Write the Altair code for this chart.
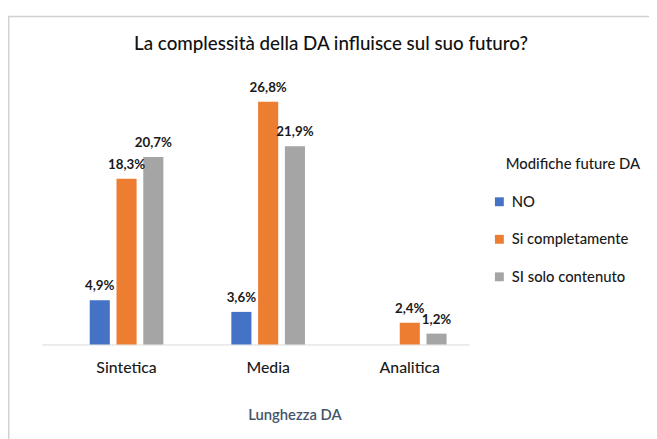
import altair as alt
import pandas as pd

categories = ["Sintetica", "Media", "Analitica"]
series = ["NO", "Si completamente", "SI solo contenuto"]
no_vals = [4.9, 3.6, None]
si_comp_vals = [18.3, 26.8, 2.4]
si_solo_vals = [20.7, 21.9, 1.2]
colors = ["#4472C4", "#ED7D31", "#A5A5A5"]
title_text = ["La complessità della DA influisce sul suo futuro?"]
legend_title = ["Modifiche future DA"]
x_title = "Lunghezza DA"

FONT = "Lato"

rows = []
for s, vals in zip(series, [no_vals, si_comp_vals, si_solo_vals]):
    for c, v in zip(categories, vals):
        if v is not None:
            rows.append({"cat": c, "serie": s, "val": v,
                         "label": f"{v:.1f}%".replace(".", ",")})
df = pd.DataFrame(rows)

x_enc = alt.X("cat:N", sort=categories,
              scale=alt.Scale(domain=categories, paddingInner=0.48,
                              paddingOuter=0.25, align=0.68),
              axis=alt.Axis(title=x_title, domainColor="#D9D9D9", domainWidth=1,
                            ticks=False, labelAngle=0, labelFontSize=16,
                            labelColor="#1a1a1a", labelFont=FONT, labelFontWeight=500,
                            labelPadding=15,
                            titleFont=FONT, titleFontSize=15, titleColor="#44546A",
                            titleFontWeight=600, titleX=256, titleY=76,
                            titleBaseline="alphabetic", titleAlign="center"))
xo_enc = alt.XOffset("serie:N", sort=series,
                     scale=alt.Scale(domain=series, paddingInner=0.25, paddingOuter=0))
y_enc = alt.Y("val:Q", scale=alt.Scale(domain=[0, 30], nice=False, zero=True), axis=None)

bars = alt.Chart(df).mark_bar().encode(
    x=x_enc, xOffset=xo_enc, y=y_enc,
    color=alt.Color("serie:N", sort=series,
                    scale=alt.Scale(domain=series, range=colors),
                    legend=alt.Legend(orient="none", legendX=456, legendY=123,
                                      title=None, symbolType="square",
                                      symbolSize=81, symbolStrokeWidth=0,
                                      labelFontSize=15, labelFont=FONT,
                                      labelFontWeight=500,
                                      labelColor="#1a1a1a", rowPadding=22,
                                      labelOffset=5, padding=0)),
)

labels = alt.Chart(df).mark_text(baseline="alphabetic", dy=-10, fontSize=13.5,
                                 fontWeight="bold", font=FONT, color="#1a1a1a").encode(
    x=alt.X("cat:N", sort=categories), xOffset=alt.XOffset("serie:N", sort=series),
    y="val:Q", text="label:N")

title = alt.Chart(pd.DataFrame({"t": title_text})).mark_text(
    align="center", baseline="alphabetic", fontSize=19, font=FONT, fontWeight=500,
    color="#111111").encode(
    x=alt.value(293), y=alt.value(-23), text="t:N")

leg_title = alt.Chart(pd.DataFrame({"t": legend_title})).mark_text(
    align="left", baseline="alphabetic", fontSize=15, font=FONT, fontWeight=500,
    color="#1a1a1a").encode(
    x=alt.value(470), y=alt.value(97), text="t:N")

border_top = alt.Chart(pd.DataFrame({"t": [0]})).mark_rule(color="#D0D0D0", strokeWidth=1.5).encode(
    x=alt.value(-34), x2=alt.value(620), y=alt.value(-57))
border_left = alt.Chart(pd.DataFrame({"t": [0]})).mark_rule(color="#D0D0D0", strokeWidth=1.5).encode(
    x=alt.value(-33.3), y=alt.value(-57), y2=alt.value(380))

chart = alt.layer(border_top, border_left, bars, labels, title, leg_title).properties(
    width=433, height=275,
    padding={"left": 34, "top": 63, "right": 182, "bottom": 93},
    autosize=alt.AutoSizeParams(type="none"),
    background="white",
).configure_view(stroke=None)

chart.save("out.html", embed_options={"renderer": "svg", "actions": False})
